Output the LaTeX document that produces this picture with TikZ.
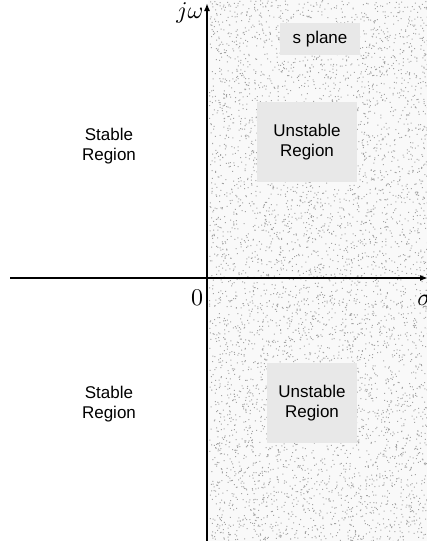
\documentclass[tikz,border=0pt]{standalone}
\usepackage{fontspec}
\setsansfont{Liberation Sans}
\usetikzlibrary{arrows.meta}
\definecolor{boxgray}{gray}{0.91}
\definecolor{dotgray}{gray}{0.64}
\tikzset{
  axis/.style={line width=1.6pt, -{Latex[length=8pt,width=6pt]}},
  region/.style={font=\sffamily\fontsize{17}{20}\selectfont, align=center},
  shaded/.style={fill=boxgray, inner sep=0pt, region},
  axlabel/.style={scale=2.4, inner sep=0pt}
}
\begin{document}
\begin{tikzpicture}[x=1pt,y=-1pt]
  \useasboundingbox (0,0) rectangle (427,541);
  \begin{scope}
    \clip (0,0) rectangle (427,541);
    % stippled right half-plane
    \fill[gray!5] (208,0) rectangle (427,541);
    \pgfmathsetseed{42}
    \fill[dotgray] \foreach \i in {1,...,5600} {
      ({209+218*rnd},{541*rnd}) rectangle ++(1,1)
    };
    % text boxes
    \node[shaded, minimum width=80pt, minimum height=32pt] (splane) at (320,39) {s plane};
    \node[shaded, minimum width=100pt, minimum height=80pt] (unsttop) at (307,142) {Unstable\\Region};
    \node[shaded, minimum width=90pt, minimum height=80pt] (unstbot) at (312,403) {Unstable\\Region};
    \node[region] (sttop) at (109,146) {Stable\\Region};
    \node[region] (stbot) at (109,404) {Stable\\Region};
    % axes
    \coordinate (ybot) at (207,541);
    \coordinate (ytop) at (207,3);
    \coordinate (xleft) at (10,278);
    \coordinate (xright) at (428,278);
    \draw[axis] (ybot) -- (ytop);
    \draw[axis] (xleft) -- (xright);
    \node[axlabel, anchor=east] (jw) at (204,13) {$j\omega$};
    \node[axlabel] (origin) at (197,298) {$0$};
    \node[axlabel, anchor=west] (sigma) at (417,300) {$\sigma$};
  \end{scope}
\end{tikzpicture}
\end{document}
